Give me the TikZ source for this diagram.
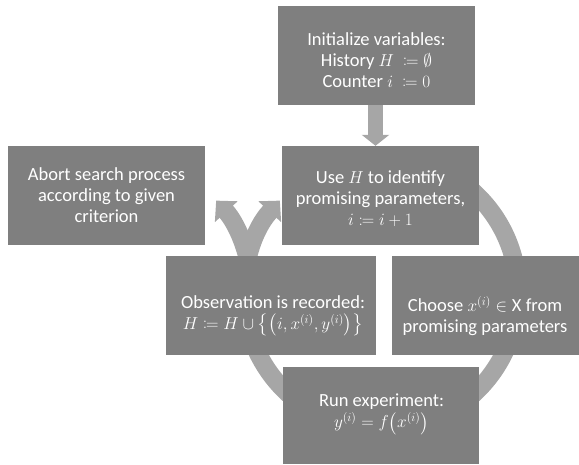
\documentclass[tikz,border=0pt]{standalone}
\usepackage{amsmath,amssymb,mathtools}
\usepackage{fontspec}
\setmainfont{Carlito}
\usetikzlibrary{arrows.meta,calc}
\definecolor{boxgray}{RGB}{127,127,127}
\definecolor{arrgray}{RGB}{166,166,166}
\begin{document}
\begin{tikzpicture}[x=1pt,y=1pt,
  stepbox/.style={fill=boxgray,draw=none,inner sep=0pt,minimum width=197pt,minimum height=99pt},
  txt/.style={text=white,align=center,inner sep=0pt,font=\fontsize{18.5}{21}\selectfont},
  ring/.style={draw=arrgray,line width=18pt,-{Triangle[width=30pt,length=15pt]}},
  fat/.style={draw=arrgray,line width=15pt,-{Triangle[width=27pt,length=11pt]}}]
\useasboundingbox (0,0) rectangle (579,465);
% circular flow (behind boxes)
\coordinate (c) at (381,172);
\coordinate (cm) at (115,172);
\draw[ring] (c) ++(100:137) arc[start angle=100,end angle=-222.4,radius=137];
\draw[ring] (cm) ++(5:137) arc[start angle=5,end angle=42.4,radius=137];
% boxes
\node[stepbox] (init) at (376.5,409.5) {};
\node[stepbox] (use) at (380.5,269.5) {};
\node[stepbox] (abort) at (106.5,269.5) {};
\node[stepbox,minimum width=210pt] (obs) at (271,159.5) {};
\node[stepbox,minimum width=187pt] (choose) at (485.5,159.5) {};
\node[stepbox,minimum width=196pt,minimum height=97pt] (run) at (381,49.5) {};
% straight arrow
\draw[fat] ([xshift=-1pt]init.south) -- ([xshift=-1pt]init.south |- use.north);
% texts
\node[txt] (tinit) at (376.5,405) {Initialize variables:\\History $H\ \coloneqq \emptyset$\\Counter $i\ \coloneqq 0$};
\node[txt] (tuse) at (380.5,266) {Use $H$ to identify\\promising parameters,\\$i\coloneqq i+1$};
\node[txt] (tabort) at (106.5,270) {Abort search process\\according to given\\criterion};
\node[txt] (tobs) at (273,149) {Observation is recorded:\\$H\coloneqq H\cup\big\{\big(i,x^{(i)},y^{(i)}\big)\big\}$};
\node[txt] (tchoose) at (485,149) {Choose $x^{(i)}\in\mathrm{X}$ from\\promising parameters};
\node[txt] (trun) at (381.5,50.5) {Run experiment:\\$y^{(i)}=f\big(x^{(i)}\big)$};
\end{tikzpicture}
\end{document}
